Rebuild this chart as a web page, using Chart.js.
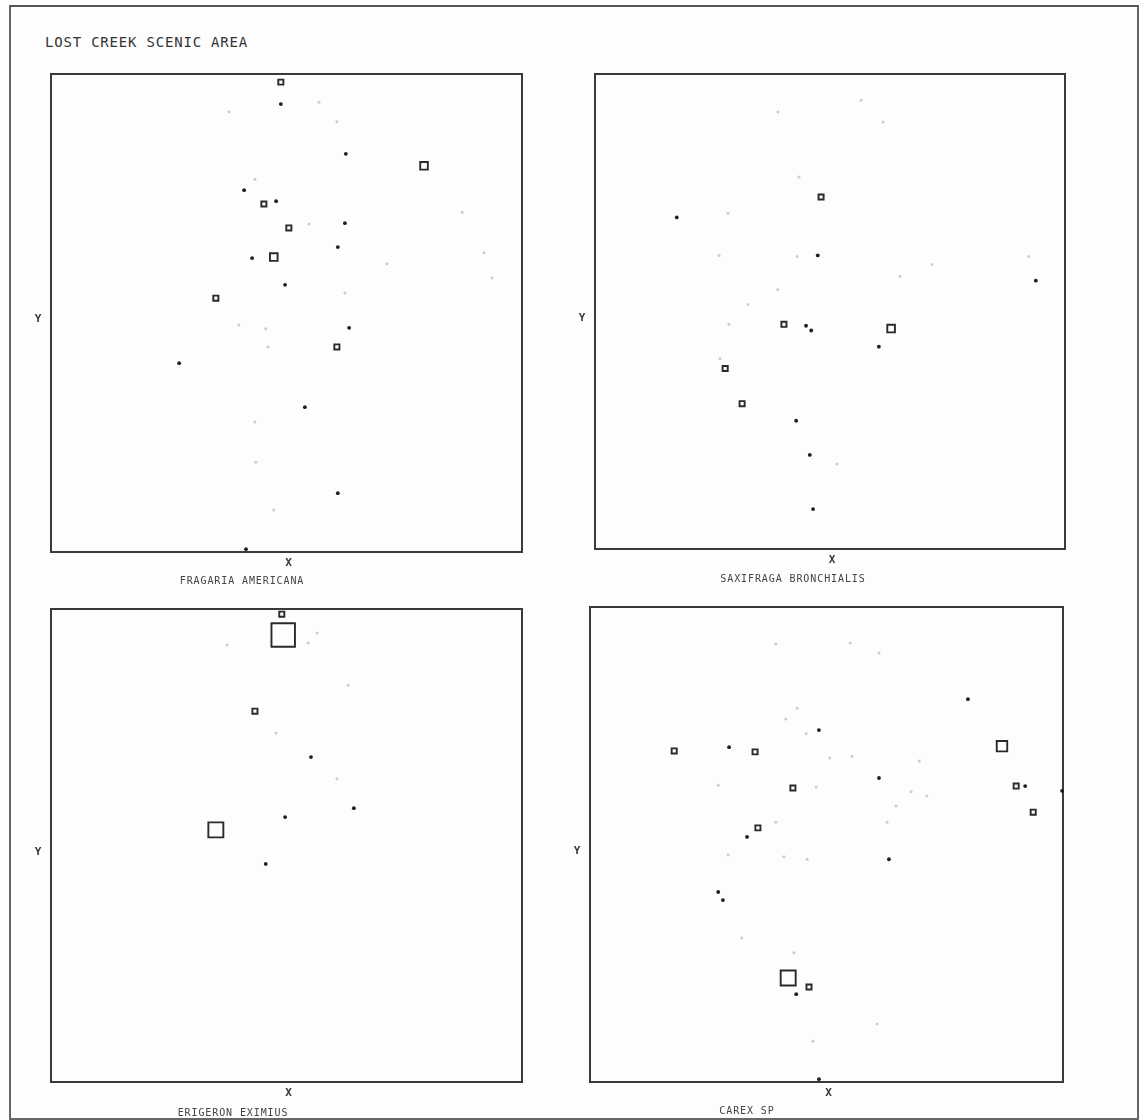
<!DOCTYPE html>
<html lang="en-US">
<head>
  <meta charset="utf-8">
  <title>Lost Creek Scenic Area</title>
  <script src="https://cdn.jsdelivr.net/npm/chart.js@4.4.1/dist/chart.umd.min.js"></script>
  <style>
  body { margin: 0; background: #fff; }
  #page { position: relative; width: 1140px; height: 1120px; background: #fdfdfd; overflow: hidden; }
  #frame { position: absolute; left: 9px; top: 5px; width: 1126px; height: 1111px; border: 2px solid #666; border-top-color: #555; }
  canvas { position: absolute; }
  .txt { position: absolute; font-family: "DejaVu Sans Mono", monospace; color: #333; white-space: nowrap; transform: translate(-50%, -50%); }
  .title { font-size: 14px; letter-spacing: 0.8px; transform: translate(0, -50%); }
  .cap { font-size: 10px; letter-spacing: 0.9px; color: #444; }
  .ax { font-size: 11px; font-weight: bold; color: #333; }
  </style>
</head>
<body>
<div id="page">
  <div id="frame"></div>
  <div class="txt title" style="left:45px; top:42px">LOST CREEK SCENIC AREA</div>
</div>
<script>
  // plot locations (x, y on a 0-100 grid) with cover class per species
  // class: 0 trace, 1 dot, 2..6 open squares of increasing size
  var species = ['FRAGARIA AMERICANA', 'SAXIFRAGA BRONCHIALIS', 'ERIGERON EXIMIUS', 'CAREX SP'];

  var fragaria = [
    [48.8,98.3,2],[48.8,93.7,1],[56.9,94.1,0],[37.8,92.1,0],[60.7,90.0,0],[62.6,83.3,1],
    [79.2,80.8,3],[43.3,78.0,0],[41.0,75.7,1],[45.2,72.8,2],[47.8,73.4,1],[87.3,71.1,0],
    [54.8,68.6,0],[62.4,68.8,1],[50.5,67.8,2],[60.9,63.8,1],[47.3,61.7,3],[42.7,61.5,1],
    [71.3,60.3,0],[91.9,62.6,0],[93.6,57.3,0],[49.7,55.9,1],[35.0,53.1,2],[62.4,54.2,0],
    [39.9,47.5,0],[45.6,46.7,0],[63.3,46.9,1],[46.1,42.9,0],[60.7,42.9,2],[27.2,39.5,1],
    [53.9,30.3,1],[43.3,27.2,0],[43.5,18.8,0],[60.9,12.3,1],[47.3,8.8,0],[41.4,0.6,1]
  ];

  var saxifraga = [
    [56.6,94.5,0],[38.9,92.0,0],[61.3,89.9,0],[43.4,78.3,0],[48.1,74.1,2],[17.4,69.8,1],
    [28.3,70.7,0],[26.4,61.8,0],[43.0,61.6,0],[47.4,61.8,1],[71.7,59.9,0],[64.9,57.4,0],
    [92.3,61.6,0],[93.8,56.5,1],[38.9,54.6,0],[32.6,51.5,0],[28.5,47.3,0],[40.2,47.3,2],
    [44.9,47.0,1],[46.0,46.0,1],[63.0,46.4,3],[60.4,42.6,1],[26.6,40.1,0],[27.7,38.0,2],
    [31.3,30.6,2],[42.8,27.0,1],[45.7,19.8,1],[51.5,17.9,0],[46.4,8.4,1]
  ];

  var erigeron = [
    [49.0,98.9,2],[49.3,94.5,6],[37.4,92.4,0],[56.5,94.9,0],[54.6,92.8,0],[63.1,83.9,0],
    [43.3,78.4,2],[47.8,73.8,0],[55.2,68.7,1],[60.7,64.1,0],[64.3,57.9,1],[49.7,56.0,1],
    [35.0,53.3,5],[45.6,46.1,1]
  ];

  var carex = [
    [39.3,92.2,0],[55.0,92.4,0],[61.1,90.3,0],[79.9,80.6,1],[43.8,78.7,0],[41.4,76.4,0],
    [48.4,74.1,1],[45.7,73.3,0],[17.8,69.7,2],[29.4,70.5,1],[34.9,69.5,2],[87.1,70.7,4],
    [50.7,68.2,0],[55.4,68.6,0],[69.6,67.6,0],[27.1,62.5,0],[42.9,61.9,2],[47.8,62.1,0],
    [61.1,64.0,1],[67.9,61.1,0],[71.2,60.2,0],[90.1,62.3,2],[92.0,62.3,1],[99.8,61.3,1],
    [93.7,56.8,2],[64.7,58.1,0],[62.8,54.7,0],[39.3,54.7,0],[35.5,53.5,2],[33.2,51.6,1],
    [29.2,47.8,0],[41.0,47.4,0],[45.9,46.9,0],[63.2,46.9,1],[27.1,40.0,1],[28.1,38.3,1],
    [32.1,30.3,0],[43.1,27.2,0],[41.9,21.9,5],[46.3,20.0,2],[43.6,18.5,1],[60.7,12.2,0],
    [47.1,8.6,0],[48.4,0.6,1]
  ];

  var allPoints = [fragaria, saxifraga, erigeron, carex];

  // marker radius for each cover class
  var classRadius = [1.5, 1.9, 3.6, 5.4, 7.4, 10.6, 16.6];

  // panel boxes on the page: left, top, width, height
  var panels = [
    [51, 74, 471, 478],
    [595, 74, 470, 475],
    [51, 609, 471, 473],
    [590, 607, 473, 475]
  ];
  var captionX = [242, 793, 233, 747];
  var captionY = [580, 578, 1112, 1110];
  // must exceed the biggest marker so the chart area is not shrunk
  var pad = 26;

  var boxPlugin = {
    id: 'box',
    beforeDatasetsDraw: function(chart) {
      var a = chart.chartArea, ctx = chart.ctx;
      ctx.save();
      ctx.strokeStyle = '#3a3a3a';
      ctx.lineWidth = 2;
      ctx.strokeRect(a.left, a.top, a.right - a.left, a.bottom - a.top);
      ctx.restore();
    }
  };

  function pick(pts, test) {
    return pts.filter(function(p) { return test(p[2]); }).map(function(p) {
      return { x: p[0], y: p[1], c: p[2] };
    });
  }

  var page = document.getElementById('page');

  function addText(cls, text, x, y) {
    var d = document.createElement('div');
    d.className = 'txt ' + cls;
    d.textContent = text;
    d.style.left = x + 'px';
    d.style.top = y + 'px';
    page.appendChild(d);
  }

  species.forEach(function(name, i) {
    var b = panels[i];
    var cv = document.createElement('canvas');
    cv.width = b[2] + 2 * pad;
    cv.height = b[3] + 2 * pad;
    cv.style.left = (b[0] - pad) + 'px';
    cv.style.top = (b[1] - pad) + 'px';
    page.appendChild(cv);

    var radius = function(ctx) { return classRadius[ctx.raw.c]; };

    new Chart(cv.getContext('2d'), {
      type: 'scatter',
      data: {
        datasets: [{
          label: 'trace',
          data: pick(allPoints[i], function(c) { return c === 0; }),
          pointStyle: 'circle',
          pointRadius: radius,
          backgroundColor: '#cccccc',
          borderWidth: 0,
          clip: false
        }, {
          label: 'present',
          data: pick(allPoints[i], function(c) { return c === 1; }),
          pointStyle: 'circle',
          pointRadius: radius,
          backgroundColor: '#1e1e1e',
          borderWidth: 0,
          clip: false
        }, {
          label: 'cover',
          data: pick(allPoints[i], function(c) { return c >= 2; }),
          pointStyle: 'rect',
          pointRadius: radius,
          backgroundColor: 'rgba(255,255,255,0)',
          borderColor: '#2a2a2a',
          borderWidth: 1.9,
          clip: false
        }]
      },
      options: {
        responsive: false,
        animation: false,
        events: [],
        layout: { padding: pad },
        plugins: { legend: { display: false }, tooltip: { enabled: false }, title: { display: false } },
        scales: {
          x: { type: 'linear', min: 0, max: 100, display: false },
          y: { type: 'linear', min: 0, max: 100, display: false }
        }
      },
      plugins: [boxPlugin]
    });

    addText('ax', 'X', b[0] + b[2] / 2 + 2, b[1] + b[3] + 10);
    addText('ax', 'Y', b[0] - 13, b[1] + b[3] / 2 + 5);
    addText('cap', name, captionX[i], captionY[i]);
  });
</script>
</body>
</html>
